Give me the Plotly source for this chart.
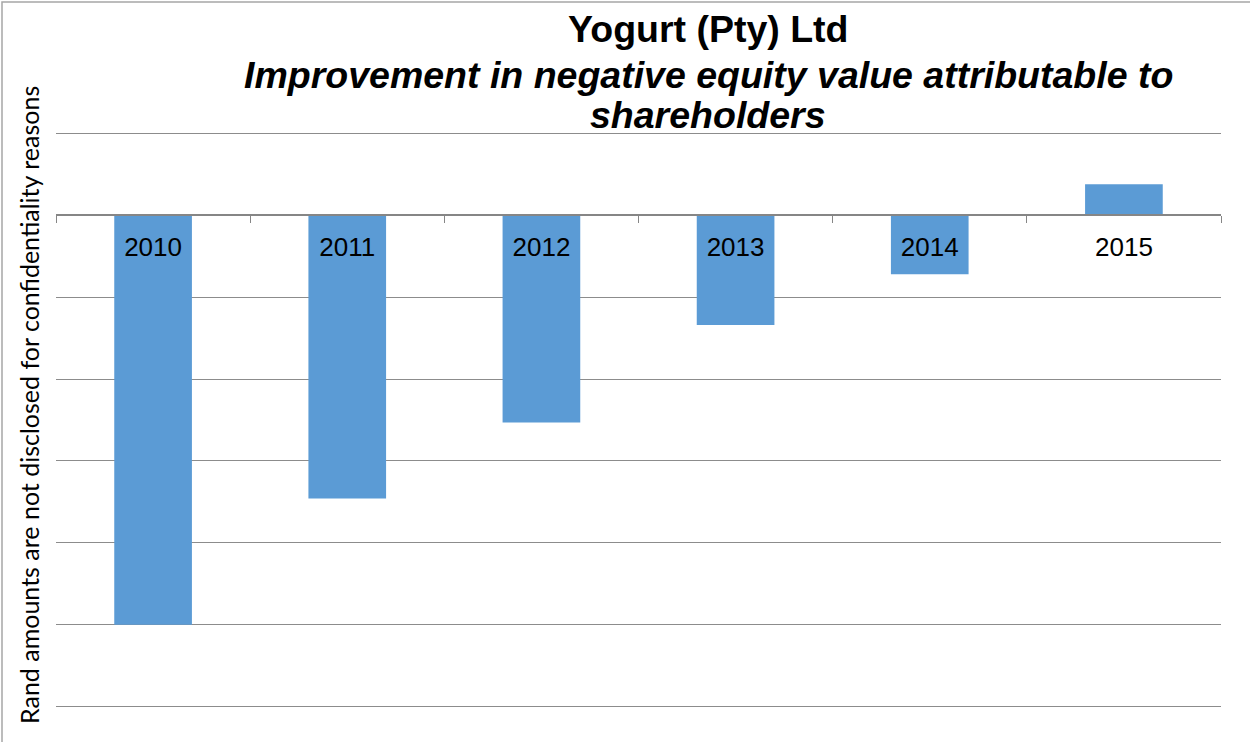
import plotly.graph_objects as go

years = ["2010", "2011", "2012", "2013", "2014", "2015"]
values = [-5.0, -3.46, -2.53, -1.34, -0.72, 0.38]

title_line1 = "Yogurt (Pty) Ltd"
title_line2 = "Improvement in negative equity value attributable to"
title_line3 = "shareholders"
y_title = "Rand amounts are not disclosed for confidentiality reasons"

YMIN, YMAX = -6.03, 1.03
PL, PR, PT, PB = 56, 1221, 131, 709
PW, PH = PR - PL, PB - PT


def ypx(py):
    return (PB - py) / PH


def xpx(px):
    return (px - PL) / PW


fig = go.Figure()
fig.add_trace(go.Bar(
    x=years, y=values,
    marker=dict(color="#5B9BD5", line=dict(width=0)),
))

fig.update_layout(
    width=1250, height=742,
    margin=dict(l=PL, r=1250 - PR, t=PT, b=742 - PB, autoexpand=False),
    paper_bgcolor="white", plot_bgcolor="white",
    bargap=0.6,
    showlegend=False,
    font=dict(family="Liberation Sans, Arial, sans-serif", color="black"),
)

fig.update_yaxes(
    range=[YMIN, YMAX], dtick=1, tick0=0,
    showgrid=True, gridcolor="#8C8C8C", gridwidth=1,
    zeroline=False, showline=False, showticklabels=False, ticks="",
    automargin=False,
)

fig.update_xaxes(
    type="category",
    anchor="free", position=(0 - YMIN) / (YMAX - YMIN),
    showline=True, linecolor="#868686", linewidth=2,
    ticks="outside", ticklen=7, tickcolor="#868686", tickwidth=1,
    tickson="boundaries",
    showgrid=False,
    tickfont=dict(family="Liberation Sans, Arial, sans-serif", size=26, color="black"),
    ticklabelstandoff=8,
    automargin=False,
)

titles = [
    (title_line1, 29.5, "<b>%s</b>"),
    (title_line2, 75, "<b><i>%s</i></b>"),
    (title_line3, 115, "<b><i>%s</i></b>"),
]
for txt, py, fmt in titles:
    fig.add_annotation(
        text=fmt % txt, xref="paper", yref="paper",
        x=xpx(708), y=ypx(py), xanchor="center", yanchor="middle",
        showarrow=False,
        font=dict(family="Liberation Sans, Arial, sans-serif", size=37.5, color="black"),
    )

fig.add_annotation(
    text=y_title, xref="paper", yref="paper",
    x=xpx(29), y=ypx(405), xanchor="center", yanchor="middle",
    textangle=-90, showarrow=False,
    font=dict(family="Lato, Carlito, sans-serif", size=25, color="black"),
)

# chart border
fig.add_shape(type="rect", xref="paper", yref="paper",
              x0=xpx(2), x1=xpx(1260),
              y0=ypx(760), y1=ypx(2),
              line=dict(color="#A6A6A6", width=1.5), fillcolor="rgba(0,0,0,0)", layer="below")

fig.write_html(
    "out.html",
    config={"displayModeBar": False},
    post_script="document.body.style.margin='0';document.body.style.overflow='hidden';",
)
